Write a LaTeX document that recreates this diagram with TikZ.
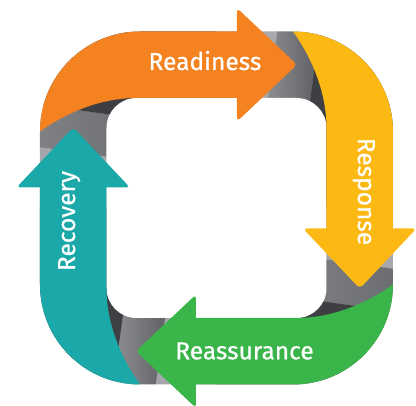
\documentclass[tikz,border=0pt]{standalone}
\usepackage{fontspec}
\setmainfont{Fira Sans}
\newfontfamily\lblfont{Fira Sans}[FakeBold=0.7]
\definecolor{corange}{HTML}{F58220}
\definecolor{cyellow}{HTML}{FDB913}
\definecolor{cgreen}{HTML}{39B54A}
\definecolor{cteal}{HTML}{1AA9A8}
\definecolor{glight}{HTML}{AEAFB2}
\definecolor{gmid}{HTML}{9FA0A3}
\definecolor{gdark}{HTML}{3E3F42}
\tikzset{
  ringout/.style={insert path={(-176.5,-76.5) -- (-176.5,76.5) arc[start angle=180,end angle=90,radius=100] -- (76.5,176.5) arc[start angle=90,end angle=0,radius=100] -- (176.5,-76.5) arc[start angle=0,end angle=-90,radius=100] -- (-76.5,-176.5) arc[start angle=-90,end angle=-180,radius=100] -- cycle}},
  ringin/.style={insert path={(-110,-80) -- (-110,80) arc[start angle=180,end angle=90,radius=30] -- (80,110) arc[start angle=90,end angle=0,radius=30] -- (110,-80) arc[start angle=0,end angle=-90,radius=30] -- (-80,-110) arc[start angle=-90,end angle=-180,radius=30] -- cycle}},
  segpath/.style={insert path={(-176.5,76.5) arc[start angle=180,end angle=90,radius=100] -- (20.5,176.5) [rounded corners=4pt] -- (20.5,200) -- (80.5,143.25) -- (20.5,86.5) [sharp corners] -- (20.5,110) -- (-80,110) .. controls (-120,110) and (-155,92) .. (-176.5,76.5) -- cycle}},
  lbl/.style={text=white, inner sep=0pt, font=\lblfont\fontsize{24.5}{28}\selectfont}
}
\begin{document}
\begin{tikzpicture}[x=1pt,y=1pt]
\useasboundingbox (-216.5,-198) rectangle (199.5,208);
\clip (-216.5,-198) rectangle (199.5,208);
% gray twisted corners
\foreach \r in {0,-90,-180,-270}{
  \begin{scope}[rotate=\r]
    \path[clip, ringout];
    \clip (0,0) rectangle (200,200);
    \begin{scope}[shift={(96,124)}, rotate=-8]
      \fill[gmid] (-300,-300) rectangle (-64,300);
      \shade[left color=gmid, right color=glight] (-64.2,-300) rectangle (-42,300);
      \shade[left color=glight, right color=gdark] (-42.2,-300) rectangle (0,300);
      \fill[gdark] (-0.2,-300) rectangle (120,300);
    \end{scope}
  \end{scope}
}
\fill[white, ringin];
% coloured segments
\fill[corange, segpath];
\fill[cyellow, rotate=-90, segpath];
\fill[cgreen, rotate=180, segpath];
\fill[cteal, rotate=90, segpath];
% labels
\node[lbl, anchor=base] (readiness) at (-11.5,138) {Readiness};
\node[lbl, anchor=base] (reassurance) at (28,-151.3) {Reassurance};
\node[lbl, anchor=base, rotate=-90] (response) at (141.5,16.5) {Response};
\node[lbl, anchor=base, rotate=90] (recovery) at (-141.5,-13) {Recovery};
\end{tikzpicture}
\end{document}
